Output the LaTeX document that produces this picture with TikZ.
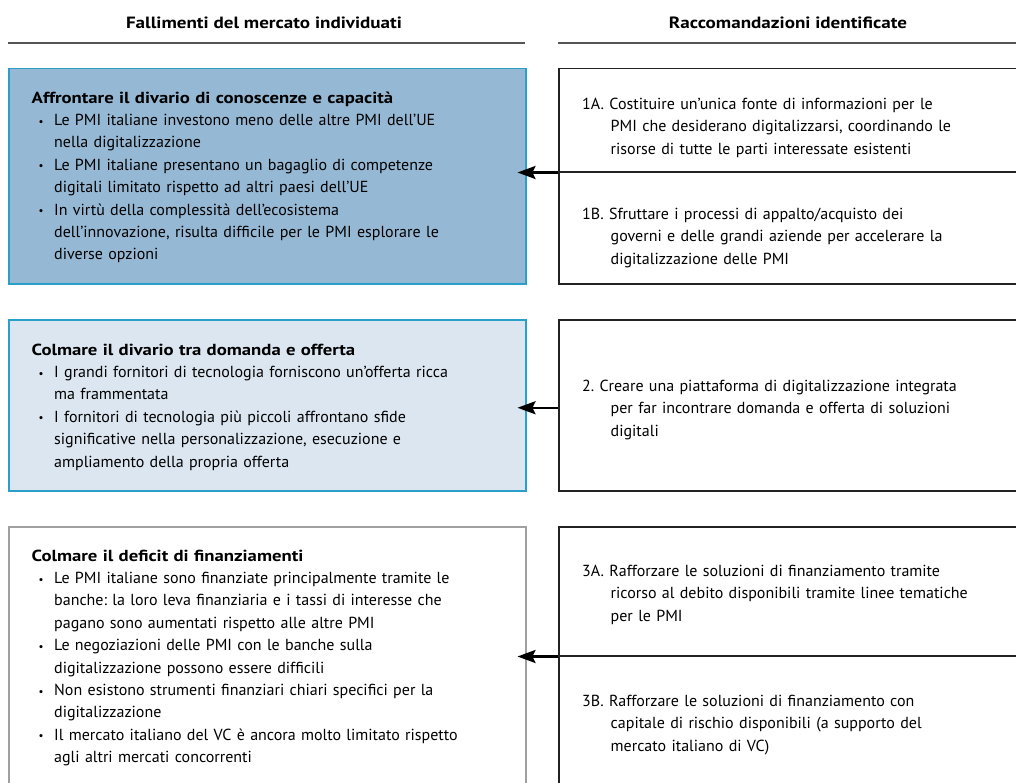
\documentclass[tikz,border=0pt]{standalone}
\usepackage{fontspec}
\setmainfont{PT Sans}
\newfontfamily\widebold{PT Sans Bold}[FakeStretch=1.17]
\usetikzlibrary{arrows.meta}
\definecolor{darkfill}{HTML}{95B9D4}
\definecolor{lightfill}{HTML}{DCE6F0}
\definecolor{cyanedge}{HTML}{2A9FCA}
\definecolor{grayedge}{HTML}{A0A0A0}
\definecolor{rulegray}{HTML}{555555}
\definecolor{darkedge}{HTML}{222222}
\newcommand{\fs}{\fontsize{16}{22.4}\selectfont\frenchspacing}
\newcommand{\hd}[1]{{\widebold #1}}
\newcommand{\bitem}[1]{\par\hangindent=22.5pt\hangafter=1\noindent\makebox[22.5pt][l]{\hspace{7pt}\raisebox{0.5pt}{\fontsize{11}{11}\selectfont•}}#1\par}
\newcommand{\ritem}[2]{\par\hangindent=28.5pt\hangafter=1\noindent\strut #1~#2\par}
\tikzset{
  hdr/.style={anchor=base, inner sep=0pt, font=\fontsize{16.3}{20}\selectfont\widebold},
  hrule/.style={draw=rulegray, line width=2pt},
  boxdark/.style={draw=cyanedge, fill=darkfill, line width=1.5pt, anchor=north west, inner sep=0pt},
  boxlight/.style={draw=cyanedge, fill=lightfill, line width=1.5pt, anchor=north west, inner sep=0pt},
  boxplain/.style={draw=grayedge, fill=white, line width=1.5pt, anchor=north west, inner sep=0pt},
  rbox/.style={draw=darkedge, line width=1.5pt, anchor=north west, inner sep=0pt},
  txt/.style={anchor=north west, inner sep=0pt, align=left, font=\fs},
  arr/.style={-{Stealth[length=18pt,width=13pt,inset=3pt]}, line width=2.5pt, draw=black},
}
\begin{document}
\begin{tikzpicture}[x=1pt,y=-1pt]
\useasboundingbox (0,0) rectangle (1016,782);
\clip (0,0) rectangle (1016,782);
% headers
\node[hdr] (H1) at (264,28) {Fallimenti del mercato individuati};
\node[hdr] (H2) at (788,28) {Raccomandazioni identificate};
\draw[hrule] (8,43) -- (525,43);
\draw[hrule] (558,43) -- (1016,43);
% left boxes
\node[boxdark, minimum width=517pt, minimum height=215.5pt] (L1) at (8,67.5) {};
\node[boxlight, minimum width=517pt, minimum height=171pt] (L2) at (8,319) {};
\node[boxplain, minimum width=517pt, minimum height=280pt] (L3) at (8,526) {};
% right boxes
\node[rbox, minimum width=470pt, minimum height=103.5pt] (R1A) at (558,67.5) {};
\node[rbox, minimum width=470pt, minimum height=112pt] (R1B) at (558,171) {};
\node[rbox, minimum width=470pt, minimum height=171pt] (R2) at (558,319) {};
\node[rbox, minimum width=470pt, minimum height=129pt] (R3A) at (558,526) {};
\node[rbox, minimum width=470pt, minimum height=150pt] (R3B) at (558,655) {};
% arrows
\draw[arr] (R1A.south west) -- ([xshift=-9pt]R1A.south west -| L1.east);
\draw[arr] ([yshift=-2.5pt]R2.west) -- ([xshift=-9pt,yshift=-2.5pt]R2.west -| L2.east);
\draw[arr] (R3A.south west) -- ([xshift=-9pt]R3A.south west -| L3.east);
% left texts
\node[txt, text width=480pt] (T1) at (31.5,87.3) {\strut\hd{Affrontare il divario di conoscenze e capacità}\par
\bitem{Le PMI italiane investono meno delle altre PMI dell’UE\newline nella digitalizzazione}
\bitem{Le PMI italiane presentano un bagaglio di competenze\newline digitali limitato rispetto ad altri paesi dell’UE}
\bitem{In virtù della complessità dell’ecosistema\newline dell’innovazione, risulta difficile per le PMI esplorare le\newline diverse opzioni}};
\node[txt, text width=480pt] (T2) at (31.5,339.3) {\strut\hd{Colmare il divario tra domanda e offerta}\par
\bitem{I grandi fornitori di tecnologia forniscono un’offerta ricca\newline ma frammentata}
\bitem{I fornitori di tecnologia più piccoli affrontano sfide\newline significative nella personalizzazione, esecuzione e\newline ampliamento della propria offerta}};
\node[txt, text width=480pt] (T3) at (31.5,545.3) {\strut\hd{Colmare il deficit di finanziamenti}\par
\bitem{Le PMI italiane sono finanziate principalmente tramite le\newline banche: la loro leva finanziaria e i tassi di interesse che\newline pagano sono aumentati rispetto alle altre PMI}
\bitem{Le negoziazioni delle PMI con le banche sulla\newline digitalizzazione possono essere difficili}
\bitem{Non esistono strumenti finanziari chiari specifici per la\newline digitalizzazione}
\bitem{Il mercato italiano del VC è ancora molto limitato rispetto\newline agli altri mercati concorrenti}};
% right texts
\node[txt, text width=430pt] (S1A) at (582,86.8) {\ritem{1A.}{Costituire un’unica fonte di informazioni per le\newline PMI che desiderano digitalizzarsi, coordinando le\newline risorse di tutte le parti interessate esistenti}};
\node[txt, text width=430pt] (S1B) at (582,196.8) {\ritem{1B.}{Sfruttare i processi di appalto/acquisto dei\newline governi e delle grandi aziende per accelerare la\newline digitalizzazione delle PMI}};
\node[txt, text width=430pt] (S2) at (582,368.8) {\ritem{2.}{Creare una piattaforma di digitalizzazione integrata\newline per far incontrare domanda e offerta di soluzioni\newline digitali}};
\node[txt, text width=430pt] (S3A) at (582,553.8) {\ritem{3A.}{Rafforzare le soluzioni di finanziamento tramite\newline ricorso al debito disponibili tramite linee tematiche\newline per le PMI}};
\node[txt, text width=430pt] (S3B) at (582,683.8) {\ritem{3B.}{Rafforzare le soluzioni di finanziamento con\newline capitale di rischio disponibili (a supporto del\newline mercato italiano di VC)}};
\end{tikzpicture}
\end{document}
